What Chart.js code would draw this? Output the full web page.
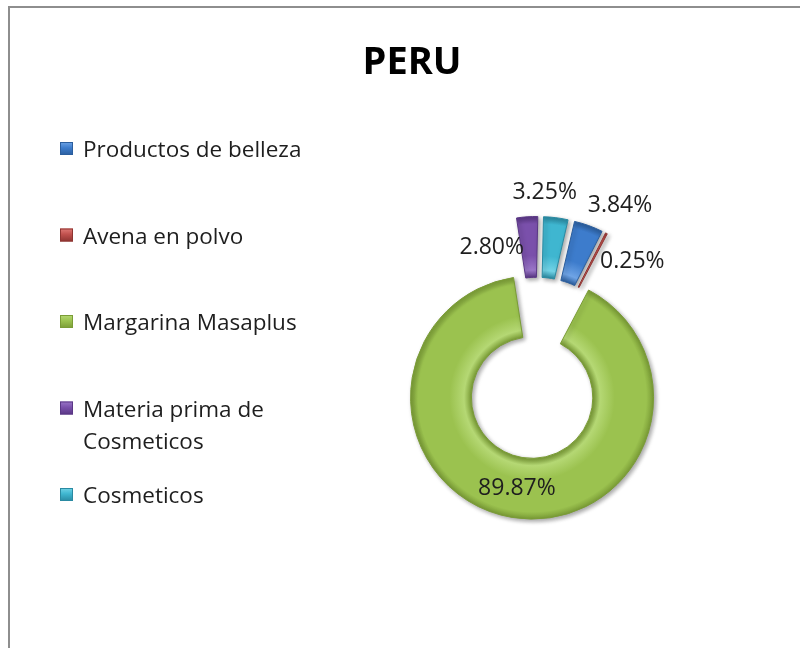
<!DOCTYPE html>
<html>
<head>
<meta charset="utf-8">
<script src="https://cdn.jsdelivr.net/npm/chart.js@4.4.1/dist/chart.umd.min.js"></script>
<style>
  html, body { margin: 0; padding: 0; background: #fff; overflow: hidden; }
  #frame { position: absolute; left: 8px; top: 6px; width: 900px; height: 800px;
           border-top: 2px solid #8e8e8e; border-left: 2px solid #8e8e8e; }
  #c { position: absolute; left: 0; top: 0; }
</style>
</head>
<body>
<div id="frame"></div>
<canvas id="c" width="800" height="648"></canvas>
<script>
// data
const categories = ["Productos de belleza", "Avena en polvo", "Margarina Masaplus", "Materia prima de Cosmeticos", "Cosmeticos"];
const shares = [3.84, 0.25, 89.87, 2.80, 3.25];
const chartTitle = "PERU";

// look
const baseColors  = ['#3d7ccc', '#c0504d', '#9bc24f', '#7a50ab', '#3fb6d0'];
const lightColors = ['#6fa4e6', '#e07a76', '#b5d874', '#9a76c8', '#72d3e6'];
const darkColors  = ['#2b5e9e', '#8e3431', '#7a9c36', '#5a3785', '#2a8aa2'];
const FONT = '"Open Sans", "DejaVu Sans", sans-serif';
const RADIUS = 121.5;
const EXPLODE = 30;
// where each percentage sits: turn (deg) from the slice's middle, distance from its centre
const labelSpots = [
  { turn: 8.5, dist: 153 },
  { turn: 18.4, dist: 114 },
  { turn: 0, dist: 92 },
  { turn: -21.9, dist: 100 },
  { turn: -5.6, dist: 146 }
];

function ringFill(c) {
  const i = c.dataIndex;
  const area = c.chart.chartArea;
  if (i === undefined) return baseColors[0];
  if (!area) return baseColors[i];
  const cx = (area.left + area.right) / 2, cy = (area.top + area.bottom) / 2;
  const g = c.chart.ctx.createRadialGradient(cx, cy, 0, cx, cy, RADIUS);
  g.addColorStop(0.5, darkColors[i]);
  g.addColorStop(0.56, lightColors[i]);
  g.addColorStop(0.68, baseColors[i]);
  g.addColorStop(0.94, baseColors[i]);
  g.addColorStop(1, darkColors[i]);
  return g;
}

function shift(arc) {
  const mid = (arc.startAngle + arc.endAngle) / 2;
  return { dx: Math.cos(mid) * EXPLODE, dy: Math.sin(mid) * EXPLODE, mid: mid };
}

// draws every slice pulled out along its own middle
const explode = {
  id: 'explode',
  beforeDatasetDraw(chart, args) {
    const ctx = chart.ctx;
    args.meta.data.forEach((arc) => {
      const s = shift(arc);
      ctx.save();
      ctx.shadowColor = 'rgba(0,0,0,0.35)';
      ctx.shadowBlur = 4;
      ctx.shadowOffsetX = 2;
      ctx.shadowOffsetY = 2;
      ctx.translate(s.dx, s.dy);
      arc.draw(ctx);
      ctx.restore();
    });
    return false;
  },
  afterDatasetsDraw(chart) {
    const ctx = chart.ctx;
    const meta = chart.getDatasetMeta(0);
    const vals = chart.data.datasets[0].data;
    ctx.save();
    ctx.font = '23px ' + FONT;
    ctx.fillStyle = '#1e1e1e';
    ctx.textAlign = 'center';
    ctx.textBaseline = 'middle';
    meta.data.forEach((arc, i) => {
      const s = shift(arc);
      const a = s.mid + labelSpots[i].turn * Math.PI / 180;
      const x = arc.x + s.dx + Math.cos(a) * labelSpots[i].dist;
      const y = arc.y + s.dy + Math.sin(a) * labelSpots[i].dist;
      ctx.fillText(vals[i].toFixed(2) + '%', x, y);
    });
    ctx.restore();
  }
};

function wrap(ctx, text, maxW) {
  const words = text.split(' ');
  const lines = [];
  let cur = '';
  words.forEach((w) => {
    const t = cur ? cur + ' ' + w : w;
    if (ctx.measureText(t).width > maxW && cur) { lines.push(cur); cur = w; } else cur = t;
  });
  lines.push(cur);
  return lines;
}

// title + legend on the left
const sideLegend = {
  id: 'sideLegend',
  afterDraw(chart) {
    const ctx = chart.ctx;
    ctx.save();
    ctx.fillStyle = '#000';
    ctx.font = 'bold 38px ' + FONT;
    ctx.textAlign = 'center';
    ctx.textBaseline = 'alphabetic';
    ctx.fillText(chartTitle, 412, 74);

    ctx.textAlign = 'left';
    ctx.font = '22.5px ' + FONT;
    chart.data.labels.forEach((label, i) => {
      const base = 157 + i * 86.5;
      const mx = 60, my = base - 15, ms = 13;
      const g = ctx.createLinearGradient(0, my, 0, my + ms);
      g.addColorStop(0, lightColors[i]);
      g.addColorStop(0.45, baseColors[i]);
      g.addColorStop(1, darkColors[i]);
      ctx.fillStyle = g;
      ctx.fillRect(mx, my, ms, ms);
      ctx.strokeStyle = darkColors[i];
      ctx.lineWidth = 1;
      ctx.strokeRect(mx + 0.5, my + 0.5, ms - 1, ms - 1);
      ctx.fillStyle = '#1e1e1e';
      wrap(ctx, label, 245).forEach((ln, k) => ctx.fillText(ln, 83, base + k * 32));
    });
    ctx.restore();
  }
};

function build() {
  new Chart(document.getElementById('c'), {
    type: 'doughnut',
    data: {
      labels: categories,
      datasets: [{
        data: shares,
        backgroundColor: ringFill,
        borderColor: darkColors,
        borderWidth: 1
      }]
    },
    options: {
      responsive: false,
      animation: false,
      rotation: 13,
      cutout: '50%',
      radius: RADIUS,
      layout: { padding: { left: 274, top: 88, right: 0, bottom: 0 } },
      plugins: {
        legend: { display: false },
        title: { display: false },
        tooltip: { enabled: false }
      }
    },
    plugins: [explode, sideLegend]
  });
}

if (document.fonts && document.fonts.load) {
  Promise.all([
    document.fonts.load('22px "Open Sans"'),
    document.fonts.load('bold 38px "Open Sans"')
  ]).then(build, build);
} else {
  build();
}
</script>
</body>
</html>
